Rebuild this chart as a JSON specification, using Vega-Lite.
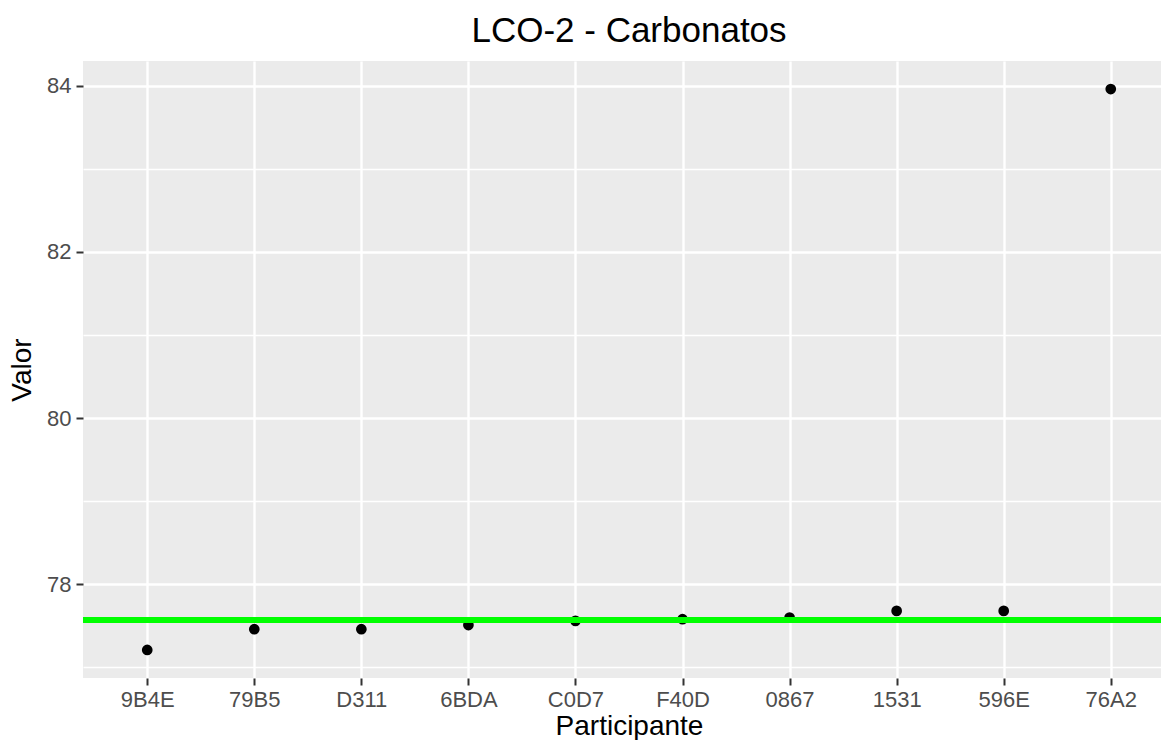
{
  "$schema": "https://vega.github.io/schema/vega-lite/v6.json",
  "autosize": {"type": "none"},
  "padding": {"left": 83, "top": 61, "right": 0, "bottom": 62},
  "width": 1092,
  "height": 617,
  "background": "white",
  "config": {
    "font": "Liberation Sans",
    "view": {"fill": "#EBEBEB", "stroke": null},
    "axis": {"domain": false, "labelFont": "Liberation Sans", "titleFont": "Liberation Sans"}
  },
  "title": {
    "text": "LCO-2 - Carbonatos",
    "fontSize": 35,
    "fontWeight": "normal",
    "color": "black",
    "anchor": "middle",
    "offset": 12
  },
  "data": {
    "values": [
      {"Participante": "9B4E", "Valor": 77.21},
      {"Participante": "79B5", "Valor": 77.46},
      {"Participante": "D311", "Valor": 77.46},
      {"Participante": "6BDA", "Valor": 77.51},
      {"Participante": "C0D7", "Valor": 77.56},
      {"Participante": "F40D", "Valor": 77.58},
      {"Participante": "0867", "Valor": 77.60},
      {"Participante": "1531", "Valor": 77.68},
      {"Participante": "596E", "Valor": 77.68},
      {"Participante": "76A2", "Valor": 83.96}
    ]
  },
  "layer": [
    {
      "mark": {"type": "point", "filled": true, "shape": "circle", "size": 115, "color": "black", "opacity": 1},
      "encoding": {
        "x": {
          "field": "Participante",
          "type": "nominal",
          "sort": null,
          "scale": {"type": "point", "padding": 0.6},
          "axis": {
            "title": "Participante",
            "titleFontSize": 28,
            "titleFontWeight": "normal",
            "titleColor": "black",
            "titlePadding": 2,
            "labelFontSize": 22,
            "labelColor": "#4D4D4D",
            "labelPadding": 4,
            "labelAngle": 0,
            "tickSize": 7,
            "tickWidth": 2,
            "tickColor": "#333333",
            "grid": true,
            "gridColor": "white",
            "gridWidth": 2.4
          }
        },
        "y": {
          "field": "Valor",
          "type": "quantitative",
          "scale": {"domain": [76.8725, 84.2975], "nice": false, "zero": false},
          "axis": {
            "orient": "left",
            "title": "Valor",
            "titleFontSize": 28,
            "titleFontWeight": "normal",
            "titleColor": "black",
            "titlePadding": 10,
            "values": [78, 80, 82, 84],
            "labelFontSize": 22,
            "labelColor": "#4D4D4D",
            "labelPadding": 5,
            "tickSize": 7,
            "tickWidth": 2,
            "tickColor": "#333333",
            "grid": true,
            "gridColor": "white",
            "gridWidth": 2.4
          }
        }
      }
    },
    {
      "mark": {"type": "rule", "color": "#00FF00", "strokeWidth": 6},
      "encoding": {
        "y": {
          "datum": 77.57,
          "type": "quantitative",
          "axis": {
            "orient": "right",
            "values": [77, 79, 81, 83],
            "labels": false,
            "ticks": false,
            "domain": false,
            "grid": true,
            "gridColor": "white",
            "gridWidth": 1.3,
            "title": null
          }
        }
      }
    }
  ],
  "resolve": {"axis": {"y": "independent"}}
}
